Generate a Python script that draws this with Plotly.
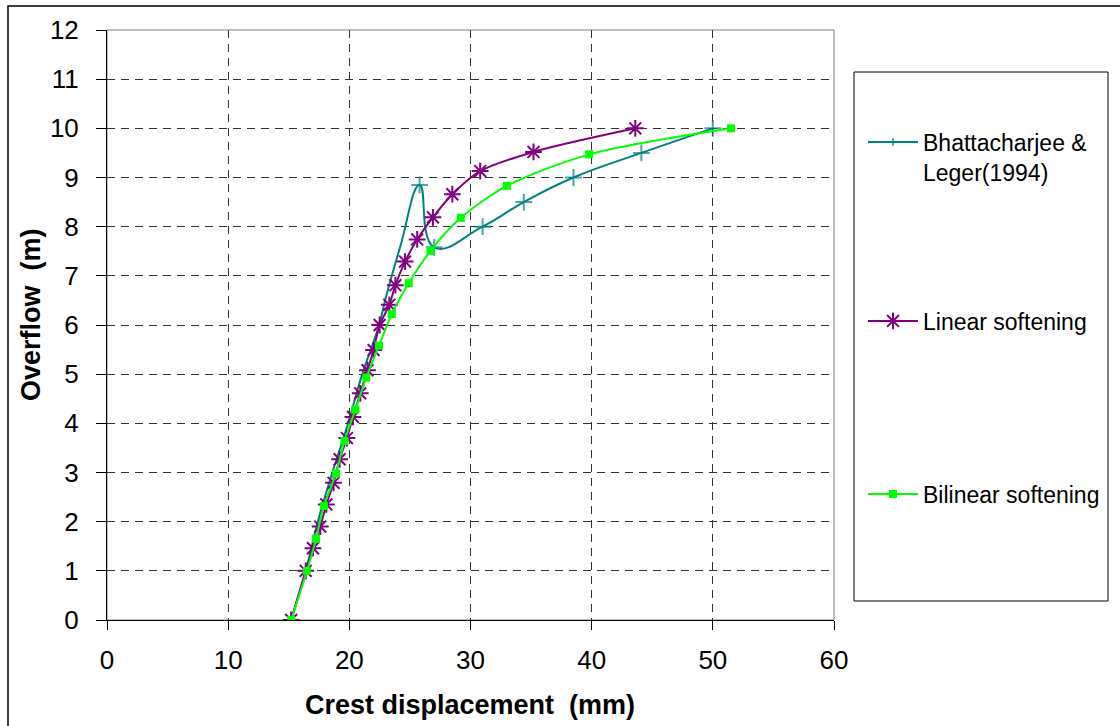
import plotly.graph_objects as go

# ---- data ----
bh_x = [15.2, 16.4, 17.4, 18.6, 19.9, 21.0, 22.4, 23.1, 24.2, 25.8, 27.0, 31.0, 34.4, 38.5, 44.1, 50.0]
bh_y = [0.0, 1.0, 2.0, 3.0, 4.0, 4.95, 5.96, 6.64, 7.59, 8.85, 7.58, 8.0, 8.5, 9.0, 9.5, 10.0]

lin_x = [15.2, 16.4, 17.0, 17.6, 18.1, 18.7, 19.2, 19.8, 20.3, 20.9, 21.5, 22.0, 22.5, 23.3, 23.8,
         24.6, 25.6, 26.9, 28.5, 30.8, 35.2, 43.6]
lin_y = [0.0, 1.0, 1.46, 1.9, 2.35, 2.79, 3.27, 3.7, 4.13, 4.61, 5.08, 5.49, 6.0, 6.41, 6.81,
         7.29, 7.74, 8.19, 8.66, 9.13, 9.52, 10.0]

bil_x = [15.2, 16.5, 17.25, 17.9, 18.9, 19.6, 20.5, 21.4, 22.45, 23.5, 24.9, 26.7, 29.2, 33.0, 39.8, 51.5]
bil_y = [0.0, 1.0, 1.65, 2.32, 2.98, 3.64, 4.28, 4.93, 5.58, 6.22, 6.85, 7.51, 8.18, 8.83, 9.47, 10.0]

names = ["Bhattacharjee &amp;<br>Leger(1994)", "Linear softening", "Bilinear softening"]
x_ticks = [0, 10, 20, 30, 40, 50, 60]
y_ticks = list(range(0, 13))

TEAL = "#008080"
PURPLE = "#800080"
GREEN = "#00FF00"
FONT = "Liberation Sans, Arial, sans-serif"

# plot-area pixel geometry
L, R, T, B = 107, 834, 30, 620
W, H = 1120, 726
def px(xp):
    return (xp - L) / (R - L)
def py(yp):
    return (B - yp) / (B - T)

# teal markers only shown on the upper (visible) part of the curve
bh_sizes = [12 if (yy >= 7.5 and xx >= 25) else 0 for xx, yy in zip(bh_x, bh_y)]

fig = go.Figure()
fig.add_trace(go.Scatter(
    x=bh_x, y=bh_y, name=names[0], mode="lines+markers", showlegend=True,
    line=dict(color=TEAL, width=2, shape="spline", smoothing=1.3),
    marker=dict(symbol="cross-thin-open", size=bh_sizes, line=dict(color=TEAL, width=2)),
    legend="legend"))
fig.add_trace(go.Scatter(
    x=lin_x, y=lin_y, name=names[1], mode="lines+markers", showlegend=True,
    line=dict(color=PURPLE, width=2, shape="spline", smoothing=0.8),
    marker=dict(symbol="asterisk-open", size=14, line=dict(color=PURPLE, width=2)),
    legend="legend2"))
fig.add_trace(go.Scatter(
    x=bil_x, y=bil_y, name=names[2], mode="lines+markers", showlegend=True,
    line=dict(color=GREEN, width=2, shape="spline", smoothing=0.8),
    marker=dict(symbol="square", size=8, color=GREEN),
    legend="legend3"))

grid = dict(showgrid=True, gridcolor="#333333", gridwidth=1, griddash="8px,6px")
fig.update_xaxes(range=[0, 60], tickvals=x_ticks, ticktext=[str(v) for v in x_ticks],
                 showline=True, linecolor="black", linewidth=1,
                 ticks="outside", ticklen=9, tickcolor="black", ticklabelstandoff=8,
                 tickfont=dict(family=FONT, size=26, color="black"),
                 zeroline=False, **grid)
fig.update_yaxes(range=[0, 12], tickvals=y_ticks, ticktext=[str(v) for v in y_ticks],
                 showline=True, linecolor="black", linewidth=1,
                 ticks="outside", ticklen=10, tickcolor="black", ticklabelstandoff=12,
                 tickfont=dict(family=FONT, size=26, color="black"),
                 zeroline=False, **grid)

leg_common = dict(font=dict(family=FONT, size=23, color="black"), bgcolor="rgba(0,0,0,0)",
                  borderwidth=0, xanchor="left", yanchor="middle", valign="top",
                  itemwidth=50, x=px(863))
fig.update_layout(
    width=W, height=H, showlegend=True,
    margin=dict(l=L, r=W - R, t=T, b=H - B),
    paper_bgcolor="white", plot_bgcolor="white",
    font=dict(family=FONT, color="black"),
    legend=dict(**leg_common, y=py(157)),
    legend2=dict(**leg_common, y=py(321)),
    legend3=dict(**leg_common, y=py(494)),
    shapes=[
        # plot-area frame (grey)
        dict(type="rect", xref="paper", yref="paper", x0=0, x1=1, y0=0, y1=1,
             line=dict(color="#808080", width=1), layer="below"),
        # legend box
        dict(type="rect", xref="paper", yref="paper", x0=px(854), x1=px(1108),
             y0=py(601), y1=py(72), line=dict(color="black", width=1)),
        # outer chart border
        dict(type="rect", xref="paper", yref="paper", x0=px(8), x1=px(1130),
             y0=py(740), y1=py(6), line=dict(color="black", width=1.5)),
    ],
    annotations=[
        dict(text="<b>Crest displacement\u00a0\u00a0(mm)</b>", xref="paper", yref="paper",
             x=px(470), y=py(705), showarrow=False, xanchor="center", yanchor="middle",
             font=dict(family=FONT, size=27, color="black")),
        dict(text="<b>Overflow\u00a0\u00a0(m)</b>", xref="paper", yref="paper",
             x=px(31), y=py(315), showarrow=False, xanchor="center", yanchor="middle",
             textangle=-90, font=dict(family=FONT, size=27, color="black")),
    ],
)

fig.write_html("out.html")
